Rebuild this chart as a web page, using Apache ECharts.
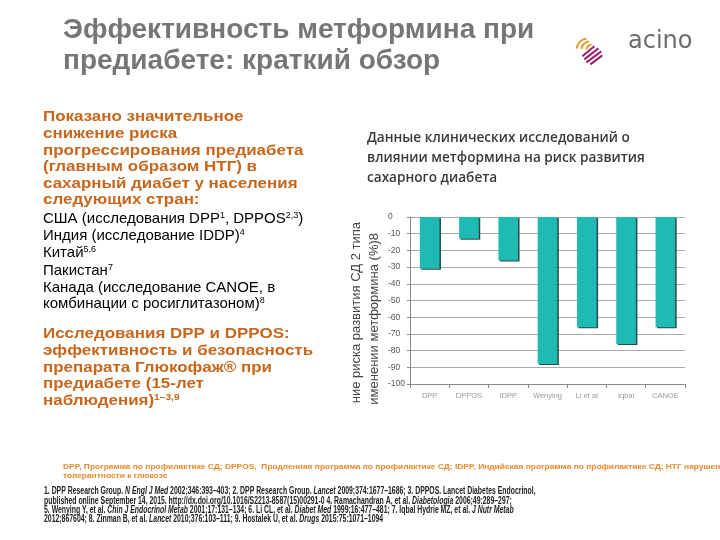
<!DOCTYPE html>
<html><head><meta charset="utf-8">
<script src="https://cdn.jsdelivr.net/npm/echarts@6/dist/echarts.min.js"></script>
<style>html,body{margin:0;padding:0;background:#fff}#c{width:720px;height:540px}</style>
</head><body><div id="c"></div>
<script>
const categories = ['DPP', 'DPPOS', 'IDPP', 'Wenying', 'Li et al', 'Iqbal', 'CANOE'];
const riskReduction = [-31, -13, -26, -88, -66, -76, -66];
const yTicks = [0, -10, -20, -30, -40, -50, -60, -70, -80, -90, -100];

const chart = echarts.init(document.getElementById('c'));
const ORANGE = '#c8661c';
const FONT = 'Liberation Sans, Arial';
const supRich = {sup: {fontSize: 9, padding: [0, 0, 6, 0], fill: '#000', fontFamily: FONT}};
const supRichO = {sup: {fontSize: 9, fontWeight: 'bold', padding: [0, 0, 6, 0], fill: ORANGE, fontFamily: FONT}};
const bold = {fontFamily: FONT, fontWeight: 'bold', fontSize: 15, fill: ORANGE, lineHeight: 16.6, rich: supRichO};
const reg = {fontFamily: FONT, fontSize: 15, fill: '#000', lineHeight: 17, rich: supRich};
function txt(x, y, text, st, extra) {
  return Object.assign({type: 'text', left: x, top: y, style: Object.assign({text: text}, st)}, extra || {});
}
function stx(x, y, text, st, sx) {
  return {type: 'text', x: x, y: y, scaleX: sx, style: Object.assign({text: text, textVerticalAlign: 'top'}, st)};
}

const graphics = [
  txt(63, 15, 'Эффективность метформина при\nпредиабете: краткий обзор',
      {fontFamily: FONT, fontWeight: 'bold', fontSize: 28, fill: '#767676', lineHeight: 31}),
  // logo
  {type: 'text', left: 628, top: 30, style: {text: 'acino', fontFamily: 'DejaVu Sans, Liberation Sans', fontSize: 24, fill: '#6d6d6d'}},
  {type: 'group', left: 574, top: 36, children: [
    {type: 'arc', shape: {cx: 14, cy: 14, r: 12, startAngle: Math.PI * 1.05, endAngle: Math.PI * 1.45}, style: {stroke: '#e39a2d', lineWidth: 2, fill: null}},
    {type: 'arc', shape: {cx: 16, cy: 14, r: 9, startAngle: Math.PI * 1.05, endAngle: Math.PI * 1.45}, style: {stroke: '#e39a2d', lineWidth: 2, fill: null}},
    {type: 'arc', shape: {cx: 18, cy: 14, r: 6, startAngle: Math.PI * 1.05, endAngle: Math.PI * 1.45}, style: {stroke: '#e39a2d', lineWidth: 2, fill: null}},
    {type: 'line', shape: {x1: 8, y1: 20, x2: 20, y2: 10}, style: {stroke: '#9c1f6e', lineWidth: 2}},
    {type: 'line', shape: {x1: 10, y1: 23, x2: 24, y2: 12}, style: {stroke: '#9c1f6e', lineWidth: 2}},
    {type: 'line', shape: {x1: 12, y1: 26, x2: 27, y2: 15}, style: {stroke: '#9c1f6e', lineWidth: 2}},
    {type: 'line', shape: {x1: 16, y1: 28, x2: 28, y2: 19}, style: {stroke: '#9c1f6e', lineWidth: 2}}
  ]},
  // left text
  stx(43, 109, 'Показано значительное\nснижение риска\nпрогрессирования предиабета\n(главным образом НТГ) в\nсахарный диабет у населения\nследующих стран:', bold, 1.13),
  txt(43, 210, 'США (исследования DPP{sup|1}, DPPOS{sup|2,3})', reg),
  txt(43, 227, 'Индия (исследование IDDP){sup|4}', reg),
  txt(43, 244, 'Китай{sup|5,6}', reg),
  txt(43, 262, 'Пакистан{sup|7}', reg),
  txt(43, 279, 'Канада (исследование CANOE, в', reg),
  txt(43, 295, 'комбинации с росиглитазоном){sup|8}', reg),
  stx(43, 326, 'Исследования DPP и DPPOS:\nэффективность и безопасность\nпрепарата Глюкофаж® при\nпредиабете (15-лет\nнаблюдения){sup|1–3,9}', bold, 1.13),
  // chart title
  txt(367, 128, 'Данные клинических исследований о\nвлиянии метформина на риск развития\nсахарного диабета',
      {fontFamily: 'Open Sans', fontWeight: 600, fontSize: 13.6, fill: '#3a3a3a', lineHeight: 20}),
  // y axis name (clipped in the original picture)
  {type: 'text', x: 356, y: 222, rotation: Math.PI / 2, style: {text: 'ние риска развития СД 2 типа', fontFamily: FONT, fontSize: 13, fill: '#444', textAlign: 'right', textVerticalAlign: 'middle'}},
  {type: 'text', x: 374, y: 233, rotation: Math.PI / 2, style: {text: 'именении метформина (%)8', fontFamily: FONT, fontSize: 13, fill: '#444', textAlign: 'right', textVerticalAlign: 'middle'}},
  // footnotes
  stx(63, 462, 'DPP, Программа по профилактике СД; DPPOS,  Продленная программа по профилактике СД; IDPP, Индийская программа по профилактике СД; НТГ нарушение\nтолерантности к глюкозе',
      {fontFamily: FONT, fontWeight: 'bold', fontSize: 8, fill: '#e8892c', lineHeight: 9}, 1.05),
  stx(44, 487, '1. DPP Research Group. {i|N Engl J Med} 2002;346:393–403; 2. DPP Research Group. {i|Lancet} 2009;374:1677–1686; 3. DPPOS. Lancet Diabetes Endocrinol,\n' +
      'published online September 14, 2015. http://dx.doi.org/10.1016/S2213-8587(15)00291-0 4. Ramachandran A, et al. {i|Diabetologia} 2006;49:289–297;\n' +
      '5. Wenying Y, et al. {i|Chin J Endocrinol Metab} 2001;17:131–134; 6. Li CL, et al. {i|Diabet Med} 1999;16:477–481; 7. Iqbal Hydrie MZ, et al. {i|J Nutr Metab}\n' +
      '2012;867604; 8. Zinman B, et al. {i|Lancet} 2010;376:103–111; 9. Hostalek U, et al. {i|Drugs} 2015:75:1071–1094',
      {fontFamily: FONT, fontWeight: 'bold', fontSize: 10.5, fill: '#222', lineHeight: 9.2,
       rich: {i: {fontStyle: 'italic', fontWeight: 'bold', fontFamily: FONT, fontSize: 10.5, fill: '#222'}}}, 0.655)
];

chart.setOption({
  animation: false,
  grid: {left: 410, right: 35, top: 217, bottom: 156},
  xAxis: {
    type: 'category', data: categories,
    axisLine: {onZero: false, lineStyle: {color: '#888'}},
    axisTick: {show: true, length: 4, lineStyle: {color: '#888'}},
    axisLabel: {color: '#999', fontSize: 7.5, margin: 8, interval: 0, fontFamily: FONT}
  },
  yAxis: {
    type: 'value', min: -100, max: 0, interval: 10,
    axisLine: {show: true, lineStyle: {color: '#888'}},
    axisTick: {show: true, length: 3, lineStyle: {color: '#888'}},
    axisLabel: {color: '#555', fontSize: 8.5, margin: 22, align: 'left', fontFamily: FONT,
      formatter: v => yTicks.includes(v) ? String(v) : ''},
    splitLine: {lineStyle: {color: '#aaa', width: 1}}
  },
  series: [{
    type: 'bar', data: riskReduction, barWidth: '50%',
    itemStyle: {color: '#1fbab3', shadowColor: '#2a4a48', shadowOffsetX: 1.5, shadowOffsetY: 1, shadowBlur: 0}
  }],
  graphic: graphics
});
</script></body></html>
